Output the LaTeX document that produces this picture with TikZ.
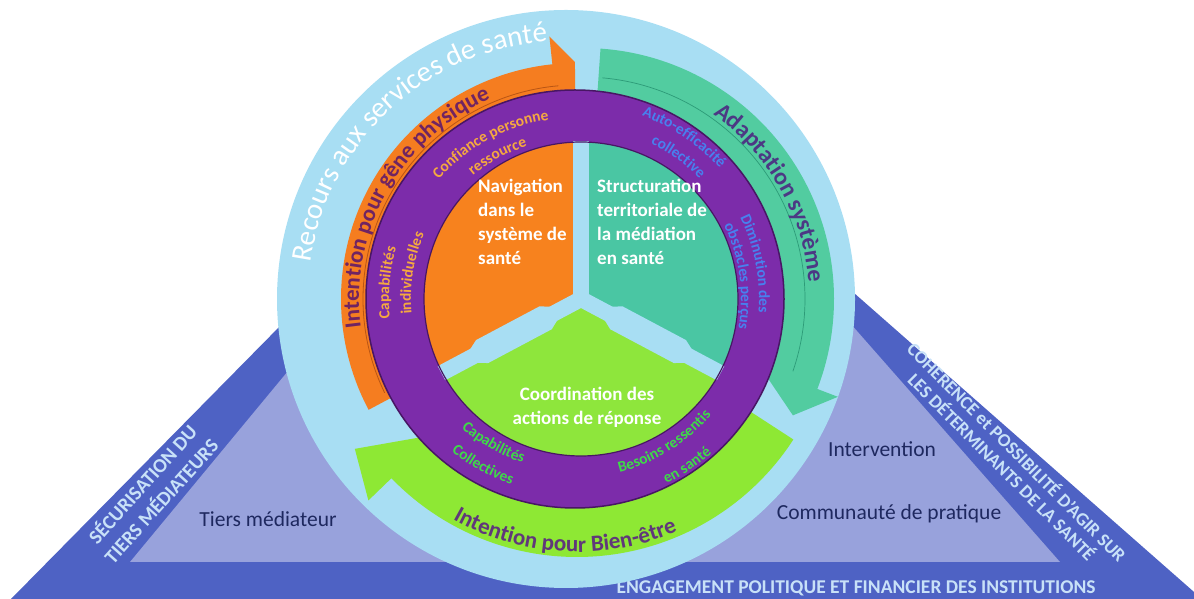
\documentclass[tikz,border=0pt]{standalone}
\usepackage{fontspec}
\setmainfont{Carlito}
\usetikzlibrary{decorations.text}
\definecolor{discblue}{RGB}{168,222,243}
\definecolor{tridark}{RGB}{78,98,196}
\definecolor{trilight}{RGB}{152,162,220}
\definecolor{navtext}{RGB}{30,40,95}
\definecolor{capstext}{RGB}{200,225,248}
\definecolor{bandorange}{RGB}{245,125,32}
\definecolor{orangeline}{RGB}{185,85,20}
\definecolor{bandteal}{RGB}{82,204,160}
\definecolor{tealline}{RGB}{45,155,120}
\definecolor{bandgreen}{RGB}{142,232,52}
\definecolor{ringpurple}{RGB}{124,44,170}
\definecolor{ringedge}{RGB}{72,22,100}
\definecolor{pieorange}{RGB}{247,130,30}
\definecolor{pieteal}{RGB}{74,198,163}
\definecolor{piegreen}{RGB}{142,230,60}
\definecolor{txtorange}{RGB}{245,168,64}
\definecolor{txtblue}{RGB}{72,128,238}
\definecolor{txtgreen}{RGB}{62,218,72}
\definecolor{lblorange}{RGB}{112,36,98}
\definecolor{lblteal}{RGB}{76,56,132}
\definecolor{lblgreen}{RGB}{96,56,122}

\begin{document}
\begin{tikzpicture}[x=1pt, y=1pt,
	arctext/.style={decorate, decoration={text along path, text align=center, text={#1}}},
	ringtext/.style 2 args={arctext={|\color{#1}\bfseries\fontsize{15.5}{15.5}\selectfont|#2}},
	pielabel/.style={text=white, font=\bfseries\fontsize{19}{24}\selectfont, align=left, inner sep=0pt},
	trilabel/.style={text=navtext, font=\fontsize{21.5}{24}\selectfont, inner sep=0pt},
	capslabel/.style={text=capstext, font=\bfseries\fontsize{19.5}{25}\selectfont, align=center, inner sep=0pt},
	gapline/.style={discblue, line width=16pt}]
	\useasboundingbox (0,0) rectangle (1194,599);
	\clip (0,0) rectangle (1194,599);
	\fill[tridark] (11,0) -- (564,561) -- (1202,0) -- cycle;
	\fill[trilight] (130,37) -- (581,582) -- (1060,37) -- cycle;
	\node[capslabel, rotate=48, font=\bfseries\fontsize{20}{25}\selectfont] (secur) at (151,107) {SÉCURISATION DU\\TIERS MÉDIATEURS};
	\node[capslabel, rotate=-45, font=\bfseries\fontsize{18.5}{21}\selectfont] (coher) at (1010,140) {COHERENCE et POSSIBILITÉ D'AGIR SUR\\LES DÉTERMINANTS DE LA SANTÉ};
	\node[capslabel] (engag) at (856,11) {ENGAGEMENT POLITIQUE ET FINANCIER DES INSTITUTIONS};
	\node[trilabel] (tiers) at (268,80) {Tiers médiateur};
	\node[trilabel] (interv) at (882,150) {Intervention};
	\node[trilabel] (commu) at (889,85) {Communauté de pratique};

	\fill[discblue] (566,300) circle[radius=289];
	\begin{scope}[shift={(566,300)}]
		\path[arctext={|\color{white}\fontsize{29}{29}\selectfont|Recours aux services de santé}] (178:258) arc[start angle=178, end angle=88, radius=258];
	\end{scope}

	\begin{scope}[shift={(577,300)}]
		\fill[bandorange] (208:185) -- (208:236) arc[start angle=208, end angle=96, radius=236] -- (96:264) -- (90.5:237) -- (90.5:185) arc[start angle=90.5, end angle=208, radius=185] -- cycle;
		\draw[orangeline, line width=0.8pt] (206:214) arc[start angle=206, end angle=95, radius=214];
		\path[arctext={|\color{lblorange}\bfseries\fontsize{23}{23}\selectfont|Intention pour gêne physique}] (200:218) arc[start angle=200, end angle=101, radius=218];
	\end{scope}
	\begin{scope}[shift={(583,300)}]
		\fill[bandteal] (86:190) -- (86:251) arc[start angle=86, end angle=-21, radius=251] -- (-21:273) -- (-29:240) -- (-21:190) arc[start angle=-21, end angle=86, radius=190] -- cycle;
		\draw[tealline, line width=0.7pt] (85:222) arc[start angle=85, end angle=-19, radius=222];
		\path[arctext={|\color{lblteal}\bfseries\fontsize{24}{24}\selectfont|Adaptation système}] (84:226) arc[start angle=84, end angle=-25, radius=226];
	\end{scope}
	\begin{scope}[shift={(577,300)}]
		\fill[bandgreen] (-33:195) -- (-33:258) arc[start angle=-33, end angle=-136, radius=258] -- (-136:290) -- (-146:268) -- (-136:195) arc[start angle=-136, end angle=-33, radius=195] -- cycle;
		\path[arctext={|\color{lblgreen}\bfseries\fontsize{23}{23}\selectfont|Intention pour Bien-être}] (217:253) arc[start angle=217, end angle=317, radius=253];
	\end{scope}

	\fill[ringpurple, draw=ringedge, line width=1.5pt] (575,300) circle[radius=209];
	\begin{scope}[shift={(581,300)}]
		\fill[pieorange] (0,0) -- (90:157) arc[start angle=90, end angle=208, radius=157] -- cycle;
		\fill[piegreen] (0,0) -- (208:157) arc[start angle=208, end angle=332, radius=157] -- cycle;
		\fill[pieteal] (0,0) -- (-28:157) arc[start angle=-28, end angle=90, radius=157] -- cycle;
		\draw[gapline] (0,0) -- (90:158);
		\draw[gapline] (0,0) -- (208:158);
		\draw[gapline] (0,0) -- (332:158);
		\fill[discblue, rotate=208] (18,0) -- (40,13) -- (112,13) -- (135,0) -- (112,-13) -- (40,-13) -- cycle;
		\fill[discblue, rotate=332] (18,0) -- (40,13) -- (112,13) -- (135,0) -- (112,-13) -- (40,-13) -- cycle;
		\draw[ringedge, line width=1.2pt] (0,0) circle[radius=157];
	\end{scope}

	\begin{scope}[shift={(575,300)}]
		\path[ringtext={txtorange}{Confiance personne}] (160:181) arc[start angle=160, end angle=77, radius=181];
		\path[ringtext={txtorange}{ressource}] (160:160) arc[start angle=160, end angle=77, radius=160];
		\path[ringtext={txtorange}{Capabilités}] (215:186) arc[start angle=215, end angle=135, radius=186];
		\path[ringtext={txtorange}{individuelles}] (211:164) arc[start angle=211, end angle=131, radius=164];
		\path[ringtext={txtblue}{Auto-efficacité}] (96:195) arc[start angle=96, end angle=16, radius=195];
		\path[ringtext={txtblue}{collective}] (94:173) arc[start angle=94, end angle=14, radius=173];
		\path[ringtext={txtblue}{Diminution des}] (51:184) arc[start angle=51, end angle=-29, radius=184];
		\path[ringtext={txtblue}{obstacles perçus}] (48:166) arc[start angle=48, end angle=-32, radius=166];
		\path[ringtext={txtgreen}{Capabilités}] (200:172) arc[start angle=200, end angle=281, radius=172];
		\path[ringtext={txtgreen}{Collectives}] (201:196) arc[start angle=201, end angle=281, radius=196];
		\path[ringtext={txtgreen}{Besoins ressentis}] (262:179) arc[start angle=262, end angle=342, radius=179];
		\path[ringtext={txtgreen}{en santé}] (264:206) arc[start angle=264, end angle=344, radius=206];
	\end{scope}

	\node[pielabel, anchor=north west] (nav) at (478,420) {Navigation\\dans le\\système de\\santé};
	\node[pielabel, anchor=north west] (struct) at (597,420) {Structuration\\territoriale de\\la médiation\\en santé};
	\node[pielabel, align=center, anchor=north] (coord) at (587,212) {Coordination des\\actions de réponse};
\end{tikzpicture}
\end{document}
